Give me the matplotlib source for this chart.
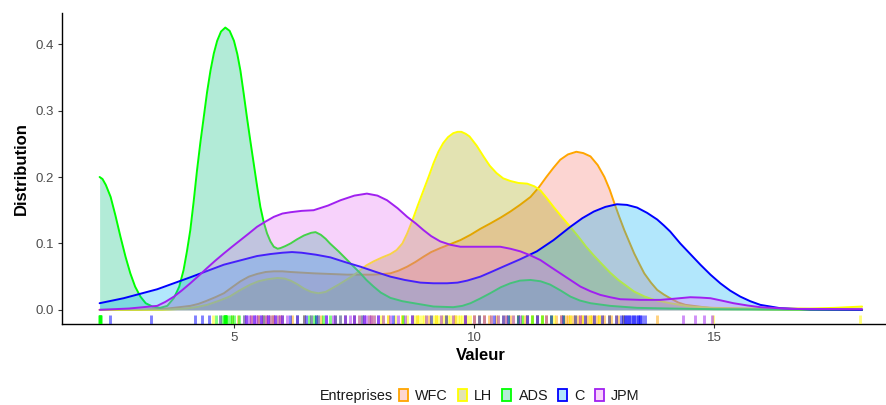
import numpy as np
import matplotlib
matplotlib.use("Agg")
import matplotlib.pyplot as plt
from matplotlib.patches import Patch
import matplotlib.colors as mcolors
import matplotlib.transforms as mtransforms

plt.rcParams['font.family'] = ['Liberation Sans', 'DejaVu Sans']

# ---------------- data ----------------
companies = ["WFC", "LH", "ADS", "C", "JPM"]

wfc_x = [2.19, 3.0, 3.6, 3.85, 4.08, 4.25, 4.4, 4.6, 4.78, 4.95, 5.125, 5.3, 5.47, 5.65,
         5.82, 6.0, 6.17, 6.65, 7.35, 7.9, 8.1, 8.25, 8.42, 8.6, 8.77, 8.94, 9.1, 9.29,
         9.5, 9.71, 9.92, 10.125, 10.33, 10.55, 10.75, 10.95, 11.17, 11.35, 11.5, 11.65,
         11.79, 11.95, 12.125, 12.27, 12.42, 12.57, 12.71, 12.82, 12.92, 13.02, 13.125,
         13.23, 13.33, 13.44, 13.54, 13.68, 13.81, 13.95, 14.08, 14.25, 14.4, 15.0, 16.0,
         18.08]
wfc_y = [0.000, 0.000, 0.002, 0.004, 0.006, 0.009, 0.013, 0.019, 0.025, 0.034, 0.043,
         0.050, 0.054, 0.057, 0.058, 0.058, 0.057, 0.055, 0.053, 0.053, 0.054, 0.055,
         0.059, 0.065, 0.072, 0.080, 0.087, 0.093, 0.099, 0.105, 0.113, 0.122, 0.130,
         0.139, 0.148, 0.158, 0.170, 0.185, 0.200, 0.214, 0.226, 0.234, 0.238, 0.236,
         0.231, 0.218, 0.200, 0.181, 0.160, 0.140, 0.120, 0.102, 0.085, 0.069, 0.055,
         0.041, 0.030, 0.023, 0.0175, 0.011, 0.0075, 0.002, 0.001, 0.000]

lh_x = [2.19, 3.5, 4.0, 4.2, 4.43, 4.65, 4.9, 5.1, 5.33, 5.5, 5.68, 5.9, 6.05, 6.17, 6.3,
        6.45, 6.6, 6.75, 6.9, 7.0, 7.17, 7.35, 7.5, 7.625, 7.75, 7.9, 8.08, 8.25, 8.38,
        8.5, 8.6, 8.71, 8.82, 8.94, 9.05, 9.15, 9.25, 9.35, 9.45, 9.56, 9.65, 9.73, 9.82,
        9.9, 10.05, 10.19, 10.32, 10.46, 10.6, 10.75, 10.92, 11.1, 11.25, 11.375, 11.5,
        11.65, 11.82, 12.0, 12.17, 12.33, 12.5, 12.67, 12.83, 13.0, 13.17, 13.33, 13.55,
        13.75, 14.08, 14.5, 15.0, 16.0, 17.0, 17.5, 18.08]
lh_y = [0.000, 0.000, 0.002, 0.004, 0.0075, 0.013, 0.020, 0.029, 0.038, 0.043, 0.046,
        0.048, 0.047, 0.044, 0.039, 0.032, 0.027, 0.025, 0.027, 0.031, 0.038, 0.046,
        0.053, 0.060, 0.067, 0.073, 0.079, 0.084, 0.090, 0.100, 0.115, 0.135, 0.157,
        0.180, 0.201, 0.221, 0.238, 0.251, 0.260, 0.266, 0.268, 0.268, 0.265, 0.261,
        0.247, 0.231, 0.217, 0.206, 0.198, 0.194, 0.191, 0.190, 0.186, 0.180, 0.169,
        0.155, 0.140, 0.125, 0.110, 0.095, 0.081, 0.068, 0.056, 0.045, 0.036, 0.0275,
        0.020, 0.015, 0.010, 0.005, 0.003, 0.002, 0.002, 0.003, 0.005]

ads_x = [2.19, 2.25, 2.32, 2.42, 2.52, 2.625, 2.73, 2.83, 2.93, 3.04, 3.15, 3.29, 3.45,
         3.6, 3.74, 3.85, 3.94, 4.01, 4.08, 4.15, 4.22, 4.29, 4.36, 4.43, 4.5, 4.57, 4.64,
         4.72, 4.81, 4.9, 4.99, 5.06, 5.125, 5.19, 5.26, 5.33, 5.4, 5.47, 5.54, 5.61,
         5.68, 5.75, 5.82, 5.9, 5.96, 6.06, 6.17, 6.3, 6.45, 6.6, 6.69, 6.8, 6.9, 6.99,
         7.17, 7.35, 7.5, 7.625, 7.75, 7.9, 8.05, 8.25, 8.5, 8.74, 9.15, 9.56, 9.75, 9.92,
         10.12, 10.33, 10.55, 10.75, 10.95, 11.17, 11.38, 11.58, 11.8, 12.0, 12.2, 12.42,
         12.83, 13.39, 14.08, 15.0, 18.08]
ads_y = [0.200, 0.197, 0.188, 0.170, 0.142, 0.110, 0.080, 0.055, 0.035, 0.020, 0.010,
         0.005, 0.003, 0.006, 0.018, 0.035, 0.060, 0.088, 0.120, 0.163, 0.210, 0.252,
         0.290, 0.328, 0.360, 0.386, 0.405, 0.419, 0.425, 0.420, 0.405, 0.385, 0.360,
         0.327, 0.290, 0.255, 0.221, 0.187, 0.155, 0.132, 0.115, 0.103, 0.095, 0.092,
         0.093, 0.096, 0.100, 0.106, 0.112, 0.116, 0.117, 0.113, 0.107, 0.100, 0.088,
         0.075, 0.064, 0.055, 0.045, 0.035, 0.026, 0.018, 0.013, 0.010, 0.005, 0.004,
         0.006, 0.010, 0.017, 0.025, 0.034, 0.040, 0.044, 0.045, 0.043, 0.038, 0.029,
         0.020, 0.014, 0.010, 0.006, 0.003, 0.002, 0.001, 0.000]

c_x = [2.19, 2.69, 3.39, 4.08, 4.78, 5.47, 5.75, 6.0, 6.2, 6.4, 6.7, 7.0, 7.3, 7.625,
       7.95, 8.25, 8.55, 8.875, 9.15, 9.43, 9.65, 9.85, 10.125, 10.35, 10.6, 10.95, 11.3,
       11.65, 12.0, 12.25, 12.49, 12.73, 12.97, 13.18, 13.39, 13.6, 13.81, 13.95, 14.08,
       14.29, 14.5, 14.71, 14.92, 15.125, 15.33, 15.54, 15.75, 15.96, 16.375, 17.0,
       18.08]
c_y = [0.010, 0.0175, 0.031, 0.049, 0.068, 0.081, 0.084, 0.086, 0.087, 0.086, 0.083,
       0.079, 0.072, 0.065, 0.057, 0.050, 0.045, 0.041, 0.040, 0.040, 0.041, 0.044,
       0.050, 0.057, 0.065, 0.076, 0.088, 0.105, 0.125, 0.138, 0.148, 0.155, 0.159,
       0.158, 0.154, 0.146, 0.136, 0.127, 0.118, 0.100, 0.084, 0.068, 0.053, 0.040,
       0.029, 0.020, 0.013, 0.0075, 0.0025, 0.0005, 0.000]

jpm_x = [2.19, 2.8, 3.39, 3.56, 3.74, 3.9, 4.08, 4.25, 4.43, 4.6, 4.78, 4.95, 5.125, 5.3,
         5.47, 5.65, 5.82, 6.0, 6.17, 6.4, 6.65, 6.95, 7.21, 7.5, 7.76, 7.98, 8.18, 8.4,
         8.6, 8.78, 8.94, 9.1, 9.29, 9.5, 9.71, 10.125, 10.54, 10.75, 10.96, 11.17,
         11.375, 11.58, 11.79, 12.0, 12.21, 12.42, 12.625, 12.83, 13.04, 13.46, 13.875,
         14.2, 14.5, 14.7, 14.92, 15.15, 15.4, 15.7, 15.96, 16.6, 18.08]
jpm_y = [0.000, 0.002, 0.006, 0.012, 0.020, 0.029, 0.040, 0.051, 0.063, 0.074, 0.085,
         0.095, 0.105, 0.115, 0.125, 0.133, 0.140, 0.145, 0.147, 0.149, 0.150, 0.157,
         0.165, 0.172, 0.175, 0.172, 0.165, 0.153, 0.140, 0.130, 0.120, 0.111, 0.103,
         0.098, 0.095, 0.095, 0.095, 0.092, 0.088, 0.082, 0.075, 0.065, 0.055, 0.045,
         0.035, 0.028, 0.0225, 0.019, 0.016, 0.015, 0.015, 0.017, 0.019, 0.0185, 0.0175,
         0.014, 0.010, 0.0065, 0.004, 0.0015, 0.001]

# rug observations
wfc_rug = [4.95, 5.08, 5.35, 5.5, 5.65, 5.8, 5.95, 6.2, 6.45, 6.8, 7.1, 7.5, 7.85, 8.2,
           8.5, 8.8, 9.05, 9.2, 9.4, 9.6, 9.8, 10.0, 10.1, 10.2, 10.3, 10.45, 10.6, 10.75,
           10.9, 11.05, 11.2, 11.3, 11.4, 11.5, 11.6, 11.7, 11.8, 11.85, 11.9, 11.95,
           12.0, 12.05, 12.1, 12.15, 12.2, 12.25, 12.3, 12.35, 12.4, 12.45, 12.5, 12.55,
           12.6, 12.65, 12.7, 12.8, 12.85, 12.95, 13.0, 13.1, 13.8]
lh_rug = [4.56, 5.5, 5.6, 5.75, 5.8, 5.9, 6.0, 7.3, 7.6, 7.8, 7.9, 8.05, 8.1, 8.2, 8.35,
          8.5, 8.6, 8.7, 8.75, 8.8, 8.85, 8.9, 8.95, 9.0, 9.1, 9.15, 9.2, 9.25, 9.3, 9.35,
          9.4, 9.45, 9.5, 9.55, 9.6, 9.65, 9.7, 9.75, 9.8, 9.85, 9.9, 10.0, 10.1, 10.2,
          10.35, 10.5, 10.65, 10.8, 10.9, 11.0, 11.1, 11.2, 11.3, 11.4, 11.5, 11.65, 11.8,
          12.0, 12.1, 12.25, 12.4, 12.6, 12.8, 13.1, 14.98, 18.04]
ads_rug = [2.18, 2.19, 2.19, 2.2, 2.2, 2.2, 2.21, 4.62, 4.7, 4.75, 4.78, 4.8, 4.8, 4.81,
           4.81, 4.81, 4.82, 4.83, 4.85, 4.9, 4.95, 5.0, 5.1, 5.2, 5.6, 6.3, 6.45, 6.55,
           6.6, 6.65, 6.7, 6.75, 6.85, 7.0, 7.2, 7.66, 8.52, 10.7, 10.9, 11.0, 11.1, 11.2,
           11.3, 11.4, 11.6, 11.85]
c_rug = [2.4, 3.26, 4.17, 4.33, 4.48, 5.25, 5.4, 5.55, 5.7, 5.85, 6.0, 6.15, 6.3, 6.5,
         6.7, 6.9, 7.1, 7.3, 7.5, 7.7, 8.0, 8.3, 8.7, 9.1, 9.4, 9.8, 10.1, 10.4, 10.6,
         10.7, 10.9, 11.1, 11.3, 11.6, 11.85, 12.1, 12.3, 12.5, 12.65, 12.8, 12.95, 13.05,
         13.1, 13.13, 13.16, 13.2, 13.23, 13.26, 13.3, 13.33, 13.36, 13.4, 13.43, 13.46,
         13.5, 13.55]
jpm_rug = [4.69, 5.2, 5.25, 5.3, 5.35, 5.4, 5.45, 5.5, 5.55, 5.6, 5.65, 5.7, 5.75, 5.8,
           5.85, 5.9, 5.95, 6.0, 6.1, 6.3, 6.45, 6.6, 6.75, 6.9, 7.05, 7.2, 7.3, 7.4, 7.5,
           7.6, 7.65, 7.7, 7.75, 7.8, 7.85, 7.9, 8.0, 8.1, 8.25, 8.4, 8.55, 8.7, 9.0, 9.3,
           9.55, 9.8, 10.0, 10.2, 10.35, 10.5, 10.65, 10.8, 10.95, 11.1, 11.3, 11.5, 11.8,
           12.2, 14.35, 14.6, 14.79, 14.95]

x_ticks = [5, 10, 15]
y_ticks = [0.0, 0.1, 0.2, 0.3, 0.4]
y_tick_labels = ["0.0", "0.1", "0.2", "0.3", "0.4"]

# ---------------- styling ----------------
line_colors = ["#FFA500", "#FFFF00", "#00FF00", "#0000FF", "#A020F0"]
fill_colors = ["#F8766D", "#A3A500", "#00BF7D", "#00B0F6", "#E76BF3"]
fill_alpha = 0.3

curves = [(wfc_x, wfc_y), (lh_x, lh_y), (ads_x, ads_y), (c_x, c_y), (jpm_x, jpm_y)]
rugs = [wfc_rug, lh_rug, ads_rug, c_rug, jpm_rug]

W, H = 887, 405
fig = plt.figure(figsize=(W / 100, H / 100), dpi=100)
left_px, right_px, top_px, bot_px = 61.7, 900.0, 13.4, 324.0
ax = fig.add_axes([left_px / W, 1 - bot_px / H, (right_px - left_px) / W,
                   (bot_px - top_px) / H])

z = 2
for (xs, ys), lc, fc in zip(curves, line_colors, fill_colors):
    xs = np.asarray(xs)
    ys = np.asarray(ys)
    ax.fill_between(xs, 0, ys, color=fc, alpha=fill_alpha, lw=0, zorder=z)
    ax.plot(xs, ys, color=lc, lw=1.4, zorder=z + 0.5, solid_joinstyle='round',
            solid_capstyle='round')
    z += 1

trans = mtransforms.blended_transform_factory(ax.transData, ax.transAxes)
for r, lc in zip(rugs, line_colors):
    ax.vlines(r, 0, 0.03, transform=trans, colors=lc, alpha=0.5, lw=2.1, zorder=10)

ax.set_xlim(1.40, 18.87)
ax.set_ylim(-0.0213, 0.4463)
ax.set_xticks(x_ticks)
ax.set_xticklabels([str(t) for t in x_ticks])
ax.set_yticks(y_ticks)
ax.set_yticklabels(y_tick_labels)

for s in ["top", "right"]:
    ax.spines[s].set_visible(False)
for s in ["left", "bottom"]:
    ax.spines[s].set_linewidth(1.0)
    ax.spines[s].set_color("black")
ax.tick_params(axis="both", which="major", length=3.0, width=0.8, color="#333333",
               labelsize=9.5, labelcolor="#4D4D4D", pad=2.5)

ax.set_xlabel("Valeur", fontsize=12, fontweight="bold", labelpad=3)
ax.set_ylabel("Distribution", fontsize=12, fontweight="bold", labelpad=5)

# legend
handles = []
for lc, fc in zip(line_colors, fill_colors):
    rgb = np.array(mcolors.to_rgb(fc))
    blended = 1 - fill_alpha * (1 - rgb)
    handles.append(Patch(facecolor=blended, edgecolor=lc, lw=1.3))
leg = fig.legend(handles, companies, loc="center left",
                 bbox_to_anchor=(399 / W, 1 - 396 / H), ncol=5, frameon=False,
                 fontsize=10.4, handlelength=0.62, handleheight=0.85, handletextpad=0.5,
                 columnspacing=0.7, borderpad=0, borderaxespad=0)
for t in leg.get_texts():
    t.set_color("#1A1A1A")
fig.text(393 / W, 1 - 396 / H, "Entreprises", ha="right", va="center", fontsize=10.4,
         color="#1A1A1A")

fig.savefig("out.png", dpi=100)
